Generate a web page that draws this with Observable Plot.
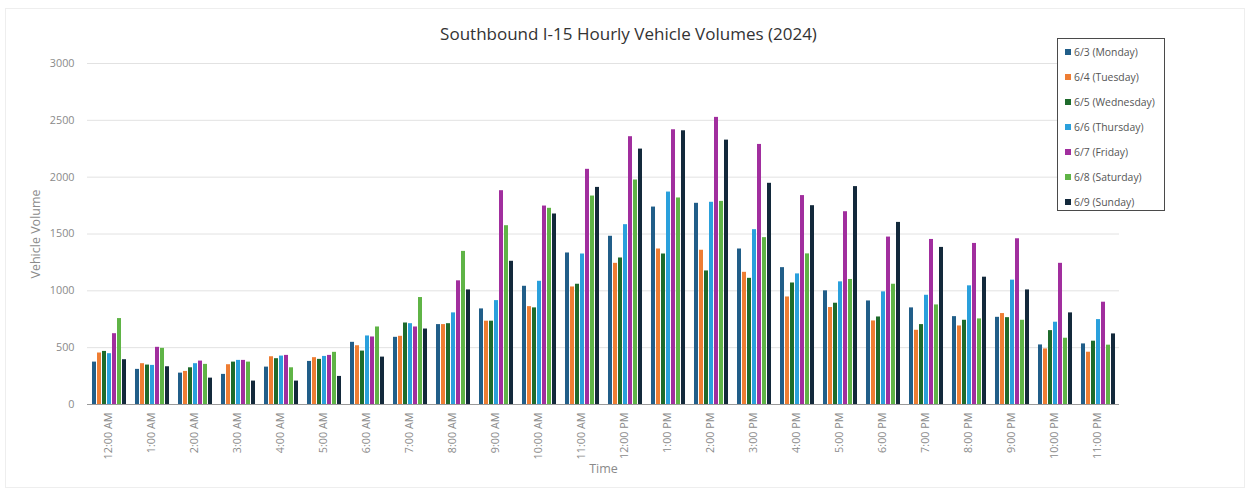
<!DOCTYPE html>
<html>
<head>
<meta charset="utf-8">
<script src="https://cdn.jsdelivr.net/npm/d3@7"></script>
<script src="https://cdn.jsdelivr.net/npm/@observablehq/plot@0.6"></script>
<style>
  html, body { margin: 0; padding: 0; background: #fff; }
  #wrap { position: relative; width: 1249px; height: 492px; overflow: hidden; font-family: "Open Sans", "Noto Sans", sans-serif; }
  #frame { position: absolute; left: 5px; top: 8px; width: 1238px; height: 478px; border: 1px solid #eeeeee; }
  #title { position: absolute; left: 0; width: 1249px; top: 22px; text-align: center; font-size: 17px; color: #333; padding-left: 8px; box-sizing: border-box; }
  #legend { position: absolute; left: 1057px; top: 38px; width: 108px; height: 173px; border: 1px solid #4a4a4a; background: #fff; box-sizing: border-box; }
  .item { position: absolute; left: 7px; font-size: 10.4px; color: #555; white-space: nowrap; line-height: 12px; }
  .sw { display: inline-block; width: 6px; height: 6px; margin-right: 3px; vertical-align: 1px; }
  #chart { position: absolute; left: 0; top: 0; }
</style>
</head>
<body>
<div id="wrap">
  <div id="frame"></div>
  <div id="chart"></div>
  <div id="title">Southbound I-15 Hourly Vehicle Volumes (2024)</div>
  <div id="legend"></div>
</div>
<script>
const hours = ["12:00 AM","1:00 AM","2:00 AM","3:00 AM","4:00 AM","5:00 AM","6:00 AM","7:00 AM","8:00 AM","9:00 AM","10:00 AM","11:00 AM",
               "12:00 PM","1:00 PM","2:00 PM","3:00 PM","4:00 PM","5:00 PM","6:00 PM","7:00 PM","8:00 PM","9:00 PM","10:00 PM","11:00 PM"];
const days = ["6/3 (Monday)","6/4 (Tuesday)","6/5 (Wednesday)","6/6 (Thursday)","6/7 (Friday)","6/8 (Saturday)","6/9 (Sunday)"];
const dayColors = ["#215e89","#ee7d33","#1e6b2c","#2aa0dc","#a12e9e","#5fb446","#13293b"];

const monday    = [373,309,276,265,329,379,547,591,703,841,1040,1333,1480,1737,1770,1368,1204,1000,911,850,773,767,524,533];
const tuesday   = [453,359,291,350,420,412,517,600,703,733,861,1034,1242,1368,1357,1163,946,853,735,653,691,800,489,460];
const wednesday = [467,347,323,373,403,397,470,717,711,733,850,1058,1289,1324,1175,1110,1069,891,770,703,741,764,650,557];
const thursday  = [447,344,359,388,426,423,603,711,806,914,1084,1324,1582,1869,1779,1538,1149,1079,991,961,1044,1094,724,747];
const friday    = [623,503,382,388,432,432,594,682,1088,1881,1746,2069,2356,2417,2526,2288,1838,1696,1473,1452,1417,1458,1242,900];
const saturday  = [756,494,353,373,323,459,682,941,1347,1573,1726,1834,1975,1817,1787,1468,1325,1100,1058,876,753,741,583,522];
const sunday    = [394,332,232,206,206,247,417,664,1008,1260,1676,1910,2247,2408,2326,1946,1749,1917,1602,1382,1120,1008,806,621];

const yTicks = [0,500,1000,1500,2000,2500,3000];

const series = [monday,tuesday,wednesday,thursday,friday,saturday,sunday];
const rows = hours.flatMap((h, i) => days.map((d, j) => ({hour: h, day: d, value: series[j][i]})));

const chart = Plot.plot({
  width: 1249,
  height: 492,
  marginTop: 63,
  marginBottom: 88,
  marginLeft: 85,
  marginRight: 129,
  style: {fontFamily: "'Open Sans', 'Noto Sans', sans-serif", fontSize: "10.8px", color: "#8a8a8a", background: "transparent"},
  facet: {data: rows, x: "hour"},
  fx: {domain: hours, paddingInner: 0, paddingOuter: 0, label: "Time", labelAnchor: "center", labelOffset: 68,
       tickRotate: -90, tickSize: 0, tickPadding: 8},
  x: {domain: days, paddingInner: 0.22, paddingOuter: 0.72, axis: null},
  y: {domain: [0, 3000], ticks: yTicks, tickFormat: "d", tickSize: 0, tickPadding: 13,
      label: "Vehicle Volume", labelAnchor: "center", labelOffset: 56},
  color: {domain: days, range: dayColors},
  marks: [
    Plot.ruleY(yTicks.slice(1), {stroke: "#e2e2e2"}),
    Plot.barY(rows, {x: "day", y: "value", fill: "day"}),
    Plot.ruleY([0], {stroke: "#9a9a9a"})
  ]
});
document.getElementById("chart").appendChild(chart);
chart.querySelectorAll("text").forEach(t => {
  const s = t.textContent.replace(/[↑→↓←]/g, "").trim();
  if (s === "Vehicle Volume" || s === "Time") {
    t.textContent = s;
    t.style.fontSize = "12.5px";
  }
});

const legend = document.getElementById("legend");
days.forEach((d, i) => {
  const el = document.createElement("div");
  el.className = "item";
  el.style.top = (7 + i * 25) + "px";
  const sw = document.createElement("span");
  sw.className = "sw";
  sw.style.background = dayColors[i];
  el.appendChild(sw);
  el.appendChild(document.createTextNode(d));
  legend.appendChild(el);
});
</script>
</body>
</html>
